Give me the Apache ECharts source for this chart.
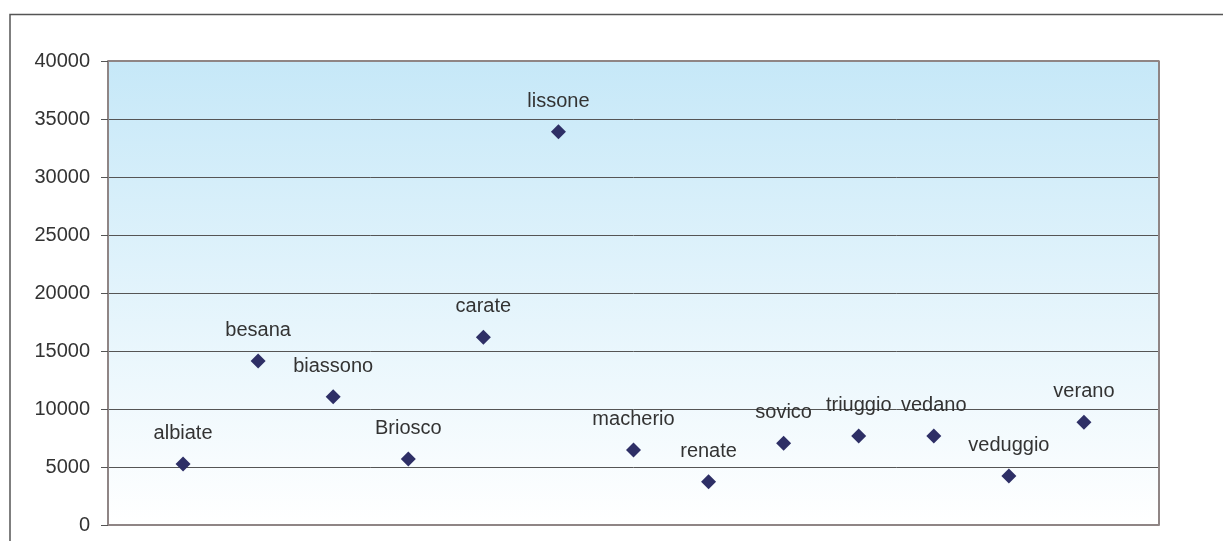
<!DOCTYPE html>
<html>
<head>
<meta charset="utf-8">
<script src="https://cdn.jsdelivr.net/npm/echarts@6/dist/echarts.min.js"></script>
<style>
  html, body { margin: 0; padding: 0; background: #fff; }
  #chart { width: 1223px; height: 541px; }
</style>
</head>
<body>
<div id="chart"></div>
<script>
const towns = ["albiate", "besana", "biassono", "Briosco", "carate", "lissone",
    "macherio", "renate", "sovico", "triuggio", "vedano", "veduggio", "verano"];
const positions = [1, 2, 3, 4, 5, 6, 7, 8, 9, 10, 11, 12, 13];
const values = [5260, 14140, 11060, 5690, 16180, 33900,
    6470, 3730, 7040, 7670, 7670, 4220, 8850];

const chart = echarts.init(document.getElementById("chart"));

const points = towns.map((t, i) => ({ name: t, value: [positions[i], values[i]] }));

chart.setOption({
    animation: false,
    graphic: [
        {
            type: "rect",
            silent: true,
            shape: { x: 10, y: 14.5, width: 1300, height: 600 },
            style: { fill: "none", stroke: "#555", lineWidth: 1.5 }
        }
    ],
    grid: {
        left: 108,
        top: 61,
        right: 64,
        bottom: 16,
        show: true,
        borderWidth: 0,
        backgroundColor: new echarts.graphic.LinearGradient(0, 0, 0, 1, [
            { offset: 0, color: "#c6e8f8" },
            { offset: 1, color: "#ffffff" }
        ])
    },
    xAxis: {
        type: "value",
        min: 0,
        max: 14,
        axisLine: { show: true, lineStyle: { color: "#8f8585", width: 2 } },
        axisTick: { show: false },
        axisLabel: { show: false },
        splitLine: { show: false }
    },
    yAxis: {
        type: "value",
        min: 0,
        max: 40000,
        interval: 5000,
        axisLine: { show: true, lineStyle: { color: "#8f8585", width: 2 } },
        axisTick: { show: true, length: 7, lineStyle: { color: "#555" } },
        axisLabel: {
            color: "#333",
            fontFamily: "Liberation Sans",
            fontSize: 20,
            margin: 18,
            formatter: v => String(v)
        },
        splitLine: { show: true, lineStyle: { color: "#555", width: 1 } }
    },
    series: [
        {
            type: "scatter",
            symbol: "diamond",
            symbolSize: [15, 15],
            itemStyle: { color: "#2e2f66", opacity: 1 },
            data: points,
            label: {
                show: true,
                position: "top",
                distance: 13,
                formatter: p => p.name,
                color: "#333",
                fontFamily: "Liberation Sans",
                fontSize: 20
            }
        },
        {
            // right and top frame of the plot area
            type: "line",
            silent: true,
            symbol: "none",
            data: [[14, 0], [14, 40000], [0, 40000]],
            lineStyle: { color: "#8f8585", width: 2 }
        }
    ]
});
</script>
</body>
</html>
